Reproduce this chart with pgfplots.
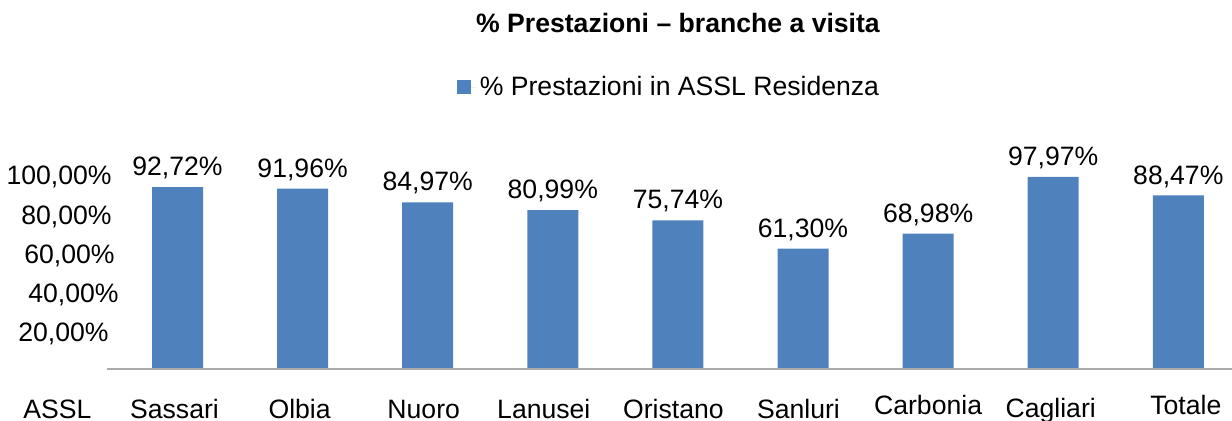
\documentclass[border=0pt]{standalone}
\usepackage{fontspec}
\setmainfont{Liberation Sans}
\usepackage{pgfplots}
\pgfplotsset{compat=1.18}
\definecolor{barblue}{RGB}{79,129,189}
\definecolor{basegray}{RGB}{170,170,170}
\newcommand{\fs}{\fontsize{13.3}{16}\selectfont}
\begin{document}
\begin{tikzpicture}
\useasboundingbox (0,0) rectangle (616pt,210.5pt);
\begin{axis}[
  at={(26.2pt,26pt)}, anchor=south west,
  scale only axis, width=589.85pt, height=98.1pt,
  xmin=0, xmax=9.43, ymin=0, ymax=100,
  clip=false,
  axis line style={draw=none},
  tick style={draw=none},
  major tick length=0pt,
  xtick={0,...,9},
  xticklabels={{\kern5pt ASSL},{Sassari\kern3pt},{Olbia\kern3pt},{Nuoro\kern4pt},{Lanusei\kern9pt},{Oristano\kern4.5pt},{Sanluri\kern4.5pt},{\raisebox{2pt}{Carbonia}},{\raisebox{0.5pt}{Cagliari}\kern2.5pt},{\kern7.5pt\raisebox{2pt}{Totale}}},
  ytick={20,40,60,80,100},
  yticklabels={{20,00\%\hspace*{1.5pt}},{40,00\%\hspace*{-3.5pt}},{60,00\%\hspace*{-1.5pt}},{80,00\%},{100,00\%}},
  xticklabel style={anchor=base, inner sep=0pt, yshift=-24.7pt},
  yticklabel style={anchor=east, inner sep=0pt, xshift=29.8pt, yshift=-2.2pt},
  ticklabel style={font=\fs},
  ybar, bar width=25.5pt, bar shift=0pt,
  nodes near coords={\pgfmathprintnumber[fixed,fixed zerofill,precision=2,use comma]{\pgfplotspointmeta}\%},
  every node near coord/.append style={anchor=base, yshift=5.7pt, font=\fs, inner sep=0pt},
  legend style={at={(0.5235,1.435)}, anchor=center, draw=none, fill=none, font=\fs},
  /pgf/number format/assume math mode=true,
]
\addplot[fill=barblue, draw=none, legend image code/.code={\fill[barblue] (0pt,-3.5pt) rectangle (7pt,3.5pt); \path (7pt,0pt) -- (9.5pt,0pt);}] coordinates {(1,92.72) (2,91.96) (3,84.97) (4,80.99) (5,75.74) (6,61.30) (7,68.98) (8,97.97) (9,88.47)};
\addlegendentry{\% Prestazioni in ASSL Residenza}
\draw[basegray, line width=0.8pt] (axis cs:0.436,0) -- (axis cs:9.43,0);
\end{axis}
\node[anchor=base, font=\bfseries\fs, inner sep=0pt] at (339pt,194pt) {\% Prestazioni – branche a visita};
\end{tikzpicture}
\end{document}
